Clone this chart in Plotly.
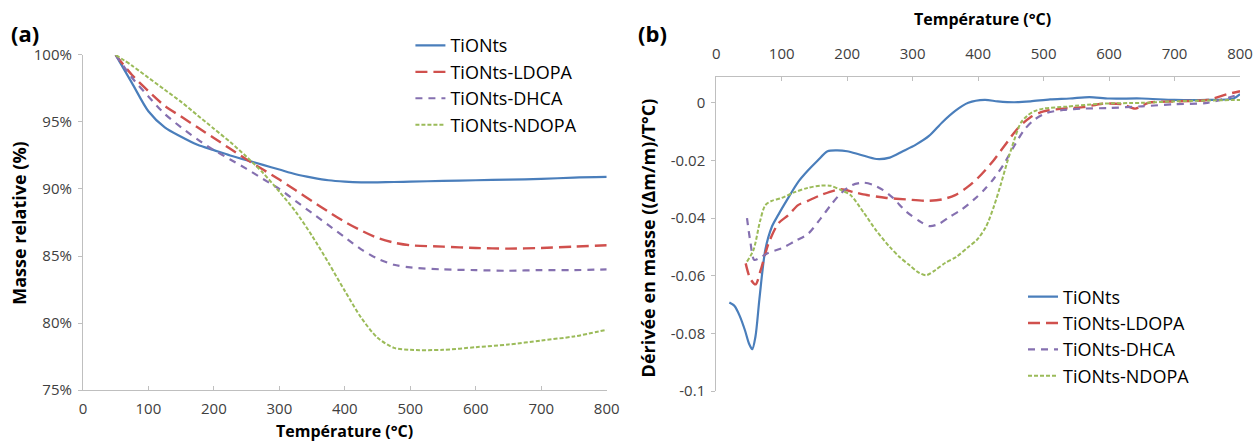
import plotly.graph_objects as go

W, H = 1255, 443

# ---------------- data: (a) TG curves ----------------
temp_tg = [50, 75, 100, 125, 150, 175, 200, 225, 250, 275, 300, 325, 350, 375,
           400, 425, 450, 475, 500, 550, 600, 650, 700, 750, 800]
tg_tionts = [100, 97.9, 95.8, 94.6, 93.9, 93.3, 92.9, 92.5, 92.15, 91.8, 91.45, 91.1,
             90.85, 90.65, 90.55, 90.5, 90.5, 90.52, 90.55, 90.6, 90.65, 90.7, 90.75, 90.85, 90.9]
tg_ldopa = [100, 98.5, 97.3, 96.2, 95.4, 94.6, 93.8, 93.0, 92.2, 91.45, 90.7, 89.9,
            89.1, 88.3, 87.55, 86.9, 86.35, 86.0, 85.8, 85.7, 85.6, 85.55, 85.6, 85.7, 85.8]
tg_dhca = [100, 98.3, 96.9, 95.6, 94.6, 93.7, 92.9, 92.2, 91.5, 90.75, 90.0, 89.1,
           88.2, 87.3, 86.4, 85.5, 84.8, 84.35, 84.15, 84.0, 83.95, 83.9, 83.95, 83.95, 84.0]
tg_ndopa = [100, 99.2, 98.3, 97.4, 96.5, 95.5, 94.5, 93.5, 92.4, 91.2, 89.8, 88.3,
            86.5, 84.5, 82.4, 80.4, 78.9, 78.15, 78.0, 78.0, 78.2, 78.4, 78.7, 79.0, 79.5]

# ---------------- data: (b) DTG curves ----------------
temp_d_tionts = [20, 28, 36, 44, 50, 55, 60, 66, 75, 85, 95, 110, 125, 140, 155, 170, 185,
                 200, 220, 245, 265, 285, 305, 325, 345, 365, 385, 410, 430, 455, 480, 510,
                 540, 570, 600, 650, 700, 750, 790, 800]
dtg_tionts = [-0.0693, -0.0705, -0.074, -0.079, -0.0835, -0.0855, -0.081, -0.068, -0.051,
              -0.043, -0.0388, -0.033, -0.0275, -0.0235, -0.020, -0.0168, -0.0165, -0.0168,
              -0.018, -0.0195, -0.019, -0.0168, -0.0145, -0.0115, -0.0068, -0.0028, 0.000,
              0.001, 0.0005, 0.0002, 0.0005, 0.0012, 0.0015, 0.002, 0.0015, 0.0015, 0.001,
              0.001, 0.0015, 0.003]

temp_d_ldopa = [45, 52, 60, 68, 80, 95, 110, 125, 140, 160, 190, 210, 230, 260, 290, 320,
                345, 365, 385, 400, 420, 440, 460, 480, 500, 530, 560, 590, 620, 640, 660,
                700, 750, 780, 800]
dtg_ldopa = [-0.0557, -0.061, -0.063, -0.058, -0.0487, -0.0418, -0.039, -0.0355, -0.034,
             -0.032, -0.030, -0.031, -0.032, -0.033, -0.0335, -0.034, -0.0335, -0.032,
             -0.029, -0.026, -0.021, -0.015, -0.009, -0.005, -0.003, -0.002, -0.0015,
             -0.0003, -0.0005, -0.002, 0.0, 0.0005, 0.001, 0.003, 0.004]

temp_d_dhca = [47, 52, 58, 65, 80, 100, 120, 140, 160, 175, 190, 208, 225, 240, 255, 270,
               290, 310, 326, 340, 357, 375, 393, 410, 425, 440, 455, 470, 485, 505, 530,
               560, 600, 650, 700, 750, 800]
dtg_dhca = [-0.040, -0.048, -0.0545, -0.054, -0.052, -0.0505, -0.048, -0.0455, -0.040,
            -0.0355, -0.0315, -0.0285, -0.0277, -0.0285, -0.0303, -0.033, -0.0377, -0.041,
            -0.0428, -0.042, -0.0395, -0.037, -0.0337, -0.030, -0.026, -0.021, -0.015,
            -0.0095, -0.006, -0.0035, -0.0025, -0.002, -0.0018, -0.0012, -0.0005, 0.0, 0.003]

temp_d_ndopa = [47, 57, 67, 75, 85, 100, 120, 140, 160, 175, 190, 205, 225, 245, 265, 280,
                295, 310, 321, 335, 350, 367, 385, 398, 412, 424, 435, 444, 455, 465, 475,
                485, 500, 536, 588, 650, 700, 750, 800]
dtg_ndopa = [-0.0551, -0.051, -0.041, -0.0355, -0.034, -0.033, -0.031, -0.0295, -0.0287,
             -0.0288, -0.0302, -0.032, -0.038, -0.0445, -0.050, -0.0535, -0.0563, -0.059,
             -0.0598, -0.058, -0.0555, -0.0534, -0.050, -0.0476, -0.043, -0.036, -0.028,
             -0.0209, -0.013, -0.007, -0.0045, -0.003, -0.002, -0.0013, -0.0003, 0.0,
             0.0005, 0.0008, 0.001]

series_names = ["TiONts", "TiONts-LDOPA", "TiONts-DHCA", "TiONts-NDOPA"]

# tick labels
tick_x = [0, 100, 200, 300, 400, 500, 600, 700, 800]
tick_x_text = ["0", "100", "200", "300", "400", "500", "600", "700", "800"]
tick_ya = [75, 80, 85, 90, 95, 100]
tick_ya_text = ["75%", "80%", "85%", "90%", "95%", "100%"]
tick_yb = [-0.1, -0.08, -0.06, -0.04, -0.02, 0]
tick_yb_text = ["-0.1", "-0.08", "-0.06", "-0.04", "-0.02", "0"]

# ---------------- styling ----------------
FONT = "Open Sans, Lato, sans-serif"
colors = ["#4A7EBB", "#D0504D", "#8570B0", "#9BBB59"]
dashes = ["solid", "12px,6px", "7px,6px", "4px,2px"]
widths = [2.2, 2.4, 2.2, 2.0]

fig = go.Figure()

tg_data = [tg_tionts, tg_ldopa, tg_dhca, tg_ndopa]
for name, ys, c, d, w in zip(series_names, tg_data, colors, dashes, widths):
    fig.add_trace(go.Scatter(x=temp_tg, y=ys, name=name, mode="lines",
                             line=dict(color=c, dash=d, width=w, shape="spline", smoothing=0.8),
                             xaxis="x", yaxis="y", legend="legend"))

dtg_x = [temp_d_tionts, temp_d_ldopa, temp_d_dhca, temp_d_ndopa]
dtg_y = [dtg_tionts, dtg_ldopa, dtg_dhca, dtg_ndopa]
for name, xs, ys, c, d, w in zip(series_names, dtg_x, dtg_y, colors, dashes, widths):
    fig.add_trace(go.Scatter(x=xs, y=ys, name=name, mode="lines",
                             line=dict(color=c, dash=d, width=w, shape="spline", smoothing=0.8),
                             xaxis="x2", yaxis="y2", legend="legend2"))

def px_x(p):
    return p / W

def px_y(p):
    return 1 - p / H

axis_line = "#BFBFBF"
tick_font = dict(family=FONT, size=15, color="#404040")

fig.update_layout(
    width=W, height=H,
    margin=dict(l=0, r=0, t=0, b=0),
    paper_bgcolor="white", plot_bgcolor="white",
    font=dict(family=FONT, color="#000000"),
    xaxis=dict(domain=[px_x(80), px_x(611)], range=[0, 800], tickvals=tick_x,
               ticktext=tick_x_text, showgrid=False, zeroline=False, showline=True,
               linecolor=axis_line, linewidth=1, ticks="inside", ticklen=4,
               tickcolor=axis_line, tickfont=tick_font, anchor="y", ticklabelstandoff=5),
    yaxis=dict(domain=[px_y(397), px_y(46)], range=[75, 100], tickvals=tick_ya,
               ticktext=tick_ya_text, showgrid=False, zeroline=False, showline=True,
               linecolor=axis_line, linewidth=1, ticks="outside", ticklen=4,
               tickcolor=axis_line, tickfont=tick_font, anchor="x", ticklabelstandoff=3),
    xaxis2=dict(domain=[px_x(722), px_x(1253)], range=[0, 800], tickvals=tick_x,
                ticktext=tick_x_text, side="top", showgrid=False, zeroline=False,
                showline=True, linecolor=axis_line, linewidth=1, ticks="inside",
                ticklen=4, tickcolor=axis_line, tickfont=tick_font, anchor="y2",
                ticklabelstandoff=11),
    yaxis2=dict(domain=[px_y(398), px_y(69)], range=[-0.1, 0.009], tickvals=tick_yb,
                ticktext=tick_yb_text, showgrid=False, zeroline=False, showline=True,
                linecolor=axis_line, linewidth=1, ticks="outside", ticklen=4,
                tickcolor=axis_line, tickfont=tick_font, anchor="x2", ticklabelstandoff=3),
    legend=dict(x=px_x(412), y=px_y(17), xanchor="left", yanchor="top",
                font=dict(family=FONT, size=18, color="#000000"),
                bgcolor="rgba(0,0,0,0)", borderwidth=0, itemwidth=30,
                tracegroupgap=0),
    legend2=dict(x=px_x(1033), y=px_y(280), xanchor="left", yanchor="top",
                 font=dict(family=FONT, size=18, color="#000000"),
                 bgcolor="rgba(0,0,0,0)", borderwidth=0, itemwidth=30,
                 tracegroupgap=0),
    showlegend=True,
)

annotations = [
    dict(text="<b>(a)</b>", x=px_x(5), y=px_y(23), xanchor="left", yanchor="middle",
         font=dict(size=22)),
    dict(text="<b>(b)</b>", x=px_x(641), y=px_y(23), xanchor="left", yanchor="middle",
         font=dict(size=22)),
    dict(text="<b>Température (°C)</b>", x=px_x(345), y=px_y(440), xanchor="center",
         yanchor="middle", font=dict(size=16)),
    dict(text="<b>Température (°C)</b>", x=px_x(992), y=px_y(8), xanchor="center",
         yanchor="middle", font=dict(size=16)),
    dict(text="<b>Masse relative (%)</b>", x=px_x(15), y=px_y(222), xanchor="center",
         yanchor="middle", textangle=-90, font=dict(size=18)),
    dict(text="<b>Dérivée en masse ((Δm/m)/T°C)</b>", x=px_x(653), y=px_y(238),
         xanchor="center", yanchor="middle", textangle=-90, font=dict(size=18)),
]
for a in annotations:
    a.update(xref="paper", yref="paper", showarrow=False)
    a["font"] = dict(family=FONT, color="#000000", **a["font"])
fig.update_layout(annotations=annotations)

fig.write_html("out.html", config={"displayModeBar": False},
               post_script="document.body.style.margin='0';document.body.style.overflow='hidden';")
